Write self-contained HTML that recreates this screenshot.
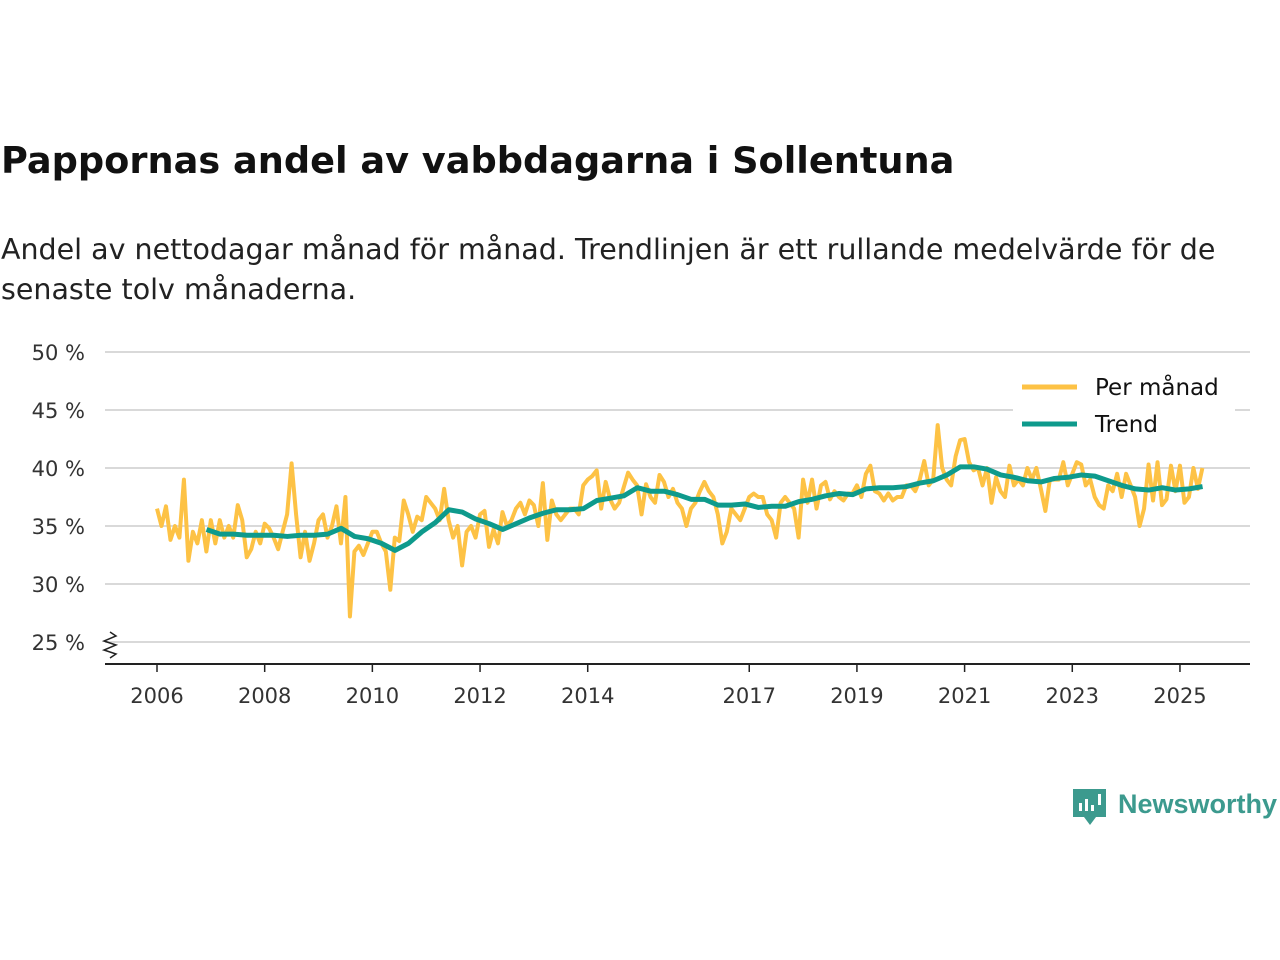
<!DOCTYPE html>
<html><head><meta charset="utf-8"><style>
body{margin:0;width:1280px;height:960px;background:#fff;font-family:"DejaVu Sans","Liberation Sans",sans-serif;overflow:hidden;position:relative}
#title{position:absolute;left:1px;top:139px;font-size:36.7px;font-weight:bold;color:#111;margin:0;white-space:nowrap}
#sub{position:absolute;left:1px;top:230px;font-size:28.5px;line-height:40px;color:#222;margin:0;width:1260px}
svg{position:absolute;left:0;top:0;font-family:"DejaVu Sans","Liberation Sans",sans-serif}
</style></head><body>
<h1 id="title">Pappornas andel av vabbdagarna i Sollentuna</h1>
<p id="sub">Andel av nettodagar månad för månad. Trendlinjen är ett rullande medelvärde för de senaste tolv månaderna.</p>
<svg id="chart" width="1280" height="960"></svg>
<script>
const yTicks=[25,30,35,40,45,50];
const yTickLabels=["25 %","30 %","35 %","40 %","45 %","50 %"];
const xTicks=[2006,2008,2010,2012,2014,2017,2019,2021,2023,2025];
const monthlyStart=2006.0;
const monthly=[
36.5,35,36.7,33.8,35,34,39,32,34.5,33.5,35.5,32.8,
35.5,33.5,35.5,34,35,34,36.8,35.5,32.3,33,34.5,33.5,
35.2,34.8,34,33,34.5,36,40.4,36,32.3,34.5,32,33.5,
35.5,36,34,35,36.7,33.5,37.5,27.2,32.8,33.3,32.5,33.5,
34.5,34.5,33.5,32.8,29.5,34,33.7,37.2,36,34.5,35.8,35.5,
37.5,37,36.5,35.5,38.2,35.5,34,35,31.6,34.5,35,34,
36,36.3,33.2,34.7,33.5,36.2,35,35.5,36.5,37,36,37.2,
36.8,35,38.7,33.8,37.2,36,35.5,36,36.5,36.5,36,38.5,
39,39.3,39.8,36.5,38.8,37.3,36.5,37,38.3,39.6,39,38.5,
36,38.6,37.5,37,39.4,38.8,37.5,38.2,37,36.5,35,36.5,
37,38,38.8,38,37.5,36,33.5,34.5,36.5,36,35.5,36.5,
37.5,37.8,37.5,37.5,36,35.5,34,37,37.5,37,36.5,34,
39,37,39,36.5,38.5,38.8,37.3,38,37.5,37.2,37.8,37.8,
38.5,37.5,39.5,40.2,38,37.8,37.2,37.8,37.2,37.5,37.5,38.5,
38.5,38,39,40.6,38.5,39,43.7,40,39,38.5,41,42.4,
42.5,40.5,39.8,40,38.5,40,37,39.2,38,37.5,40.2,38.5,
39,38.5,40,39,40,38.2,36.3,39,39,39,40.5,38.5,
39.5,40.5,40.3,38.5,39,37.5,36.8,36.5,38.5,38,39.5,37.5,
39.5,38.5,37.5,35,36.5,40.3,37.2,40.5,36.8,37.3,40.2,38,
40.2,37,37.5,40,38.2,40];
const trendStart=2006.92;
const trend=[34.7,34.3,34.3,34.2,34.2,34.2,34.1,34.2,34.2,34.3,34.8,34.1,33.9,33.5,32.9,33.5,34.5,35.3,36.4,36.2,35.6,35.2,34.7,35.2,35.7,36.1,36.4,36.4,36.5,37.2,37.4,37.6,38.3,38,38,37.7,37.3,37.3,36.8,36.8,36.9,36.6,36.7,36.7,37.1,37.3,37.6,37.8,37.7,38.2,38.3,38.3,38.4,38.7,38.9,39.4,40.1,40.1,39.9,39.4,39.2,38.9,38.8,39.1,39.2,39.4,39.3,38.9,38.5,38.2,38.1,38.3,38.1,38.2,38.4];
const NS="http://www.w3.org/2000/svg",svg=document.getElementById('chart');
const X=t=>157+(t-2006)*53.84, Y=v=>352+(50-v)*11.6;
function mk(tag,attrs,parent){const e=document.createElementNS(NS,tag);for(const k in attrs)e.setAttribute(k,attrs[k]);(parent||svg).appendChild(e);return e;}
yTicks.forEach((v,i)=>{
 const g=mk('line',{x1:105,x2:1250,y1:Y(v),y2:Y(v),stroke:'#d9d9d9','stroke-width':2});
 
 
 const t=mk('text',{x:85,y:Y(v)+8,'text-anchor':'end','font-size':21,fill:'#333'});
 t.textContent=yTickLabels[i];
 
 
});
const ax=mk('line',{x1:105,x2:1250,y1:664,y2:664,stroke:'#222','stroke-width':2});


const br=mk('path',{d:'M110,632 l6,4 l-12,5 l12,4 l-12,5 l12,4 l-6,4',fill:'none',stroke:'#222','stroke-width':1.5});


xTicks.forEach(yr=>{
 const tk=mk('line',{x1:X(yr),x2:X(yr),y1:664,y2:672,stroke:'#222','stroke-width':1.5});
 
 
 const t=mk('text',{x:X(yr),y:703,'text-anchor':'middle','font-size':21,fill:'#333'});
 t.textContent=yr;
 
 
});
const mp=mk('polyline',{points:monthly.map((v,i)=>X(monthlyStart+i/12)+','+Y(v)).join(' '),fill:'none',stroke:'#fdc245','stroke-width':4,'stroke-linejoin':'round'});


const tp=mk('polyline',{points:trend.map((v,i)=>X(trendStart+i/4)+','+Y(v)).join(' '),fill:'none',stroke:'#0e9a8c','stroke-width':5,'stroke-linejoin':'round'});


const lg=mk('g',{});


mk('rect',{x:1013,y:364,width:222,height:46,fill:'#fff'},lg);
mk('rect',{x:1013,y:410,width:222,height:30,fill:'#fff'},lg);
mk('line',{x1:1022,x2:1077,y1:387,y2:387,stroke:'#fdc245','stroke-width':5},lg);
mk('line',{x1:1022,x2:1077,y1:424,y2:424,stroke:'#0e9a8c','stroke-width':5},lg);
const l1=mk('text',{x:1095,y:395,'font-size':23,fill:'#111'},lg);l1.textContent='Per månad';


const l2=mk('text',{x:1095,y:432,'font-size':23,fill:'#111'},lg);l2.textContent='Trend';


const lo=mk('g',{});


mk('path',{d:'M1073,789 h33 v28 h-10 l-6,8 l-6,-8 h-11 z',fill:'#3c9a8e'},lo);
mk('rect',{x:1079,y:803,width:3,height:8,fill:'#fff'},lo);
mk('rect',{x:1085,y:799,width:3,height:12,fill:'#fff'},lo);
mk('rect',{x:1091,y:805,width:3,height:6,fill:'#fff'},lo);
mk('rect',{x:1098,y:794,width:3,height:11,fill:'#fff'},lo);
const lt=mk('text',{x:1118,y:813,'font-size':27,'font-weight':'bold',fill:'#3c9a8e','font-family':'Liberation Sans, sans-serif'},lo);lt.textContent='Newsworthy';
</script>
</body></html>
